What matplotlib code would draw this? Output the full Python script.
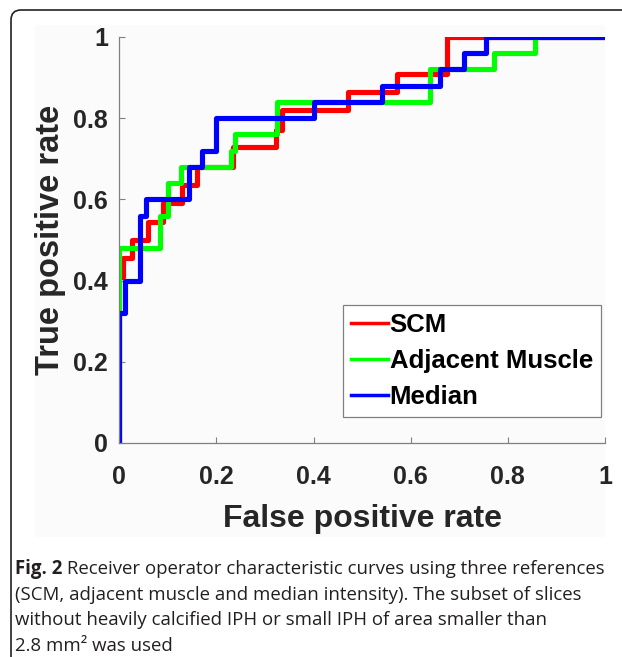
import matplotlib
matplotlib.use("Agg")
import matplotlib.pyplot as plt
from matplotlib.patches import FancyBboxPatch, Rectangle

# ROC curves (fpr breakpoints, tpr level after each)
scm_fpr = [0, 0, 0.007, 0.027, 0.06, 0.09, 0.13, 0.16, 0.235, 0.322, 0.336, 0.47, 0.572, 0.674, 1.0]
scm_tpr = [0, 0.41, 0.455, 0.50, 0.545, 0.59, 0.635, 0.68, 0.73, 0.77, 0.82, 0.865, 0.91, 1.0, 1.0]

adj_fpr = [0, 0, 0.084, 0.10, 0.128, 0.231, 0.238, 0.325, 0.639, 0.771, 0.855, 1.0]
adj_tpr = [0, 0.48, 0.56, 0.64, 0.68, 0.72, 0.76, 0.84, 0.92, 0.96, 1.0, 1.0]

med_fpr = [0, 0, 0.012, 0.043, 0.056, 0.143, 0.17, 0.20, 0.40, 0.54, 0.66, 0.71, 0.755, 1.0]
med_tpr = [0, 0.32, 0.40, 0.56, 0.60, 0.68, 0.72, 0.80, 0.84, 0.88, 0.92, 0.96, 1.0, 1.0]

labels = ["SCM", "Adjacent Muscle", "Median"]
ticks = [0, 0.2, 0.4, 0.6, 0.8, 1]
tick_labels = ["0", "0.2", "0.4", "0.6", "0.8", "1"]

caption_bold = "Fig. 2"
caption_lines = [
    " Receiver operator characteristic curves using three references",
    "(SCM, adjacent muscle and median intensity). The subset of slices",
    "without heavily calcified IPH or small IPH of area smaller than",
    "2.8 mm\u00b2 was used",
]

plt.rcParams['font.family'] = ['Liberation Sans', 'DejaVu Sans']

W, H = 622, 657
fig = plt.figure(figsize=(W / 100, H / 100), dpi=100)
fig.patch.set_facecolor('white')

# light panel behind the plot image and the rounded outer frame
fig.add_artist(Rectangle((35 / W, 1 - 537 / H), 570 / W, 512 / H, transform=fig.transFigure,
                         facecolor='#fbfbfb', edgecolor='none', zorder=0))
fig.add_artist(FancyBboxPatch((11 / W, -0.1), 1.2, 1.1 - 10 / H, transform=fig.transFigure,
                              boxstyle="round,pad=0,rounding_size=0.016",
                              facecolor='none', edgecolor='#222222', linewidth=1.2,
                              mutation_aspect=W / H))

ax = fig.add_axes([119.3 / W, 1 - 443 / H, 485.7 / W, 406 / H])
ax.patch.set_alpha(0)

ax.step(scm_fpr, scm_tpr, where='post', color='#ff0000', lw=3.7, label=labels[0])
ax.step(adj_fpr, adj_tpr, where='post', color='#00ff00', lw=3.7, label=labels[1])
ax.step(med_fpr, med_tpr, where='post', color='#0000ff', lw=3.7, label=labels[2])

ax.set_xlim(0, 1)
ax.set_ylim(0, 1)
ax.set_xticks(ticks)
ax.set_yticks(ticks)
ax.set_xticklabels(tick_labels, fontsize=18, fontweight='bold', color='#262626')
ax.set_yticklabels(tick_labels, fontsize=18, fontweight='bold', color='#262626')
ax.tick_params(axis='x', direction='in', length=4, width=0.8, color='#808080', pad=16)
ax.tick_params(axis='y', direction='in', length=4, width=0.8, color='#808080', pad=8)
for side in ['top', 'right']:
    ax.spines[side].set_visible(False)
for side in ['left', 'bottom']:
    ax.spines[side].set_color('#808080')
    ax.spines[side].set_linewidth(0.9)

ax.set_xlabel("False positive rate", fontsize=23, fontweight='bold', color='#262626', labelpad=11)
ax.set_ylabel("True positive rate", fontsize=23.5, fontweight='bold', color='#262626', labelpad=5)

leg = ax.legend(loc='lower right', bbox_to_anchor=(0.991, 0.064),
                prop={'weight': 'bold', 'size': 18.5}, handlelength=1.45, handletextpad=0.05,
                borderpad=0.3, labelspacing=0.48, fancybox=False, framealpha=1,
                edgecolor='#808080', borderaxespad=0)
leg.get_frame().set_linewidth(0.9)
for line in leg.get_lines():
    line.set_linewidth(2.5)

# caption
cap_font = dict(family=['Open Sans', 'DejaVu Sans'], fontsize=13.4, color='#231f20', va='baseline')
x0, y0, dy = 15 / W, 1 - 574 / H, 25.7 / H
fb = fig.text(x0, y0, caption_bold, fontweight='bold', **cap_font)
fig.canvas.draw()
bb = fb.get_window_extent(renderer=fig.canvas.get_renderer())
fig.text(bb.x1 / W, y0, caption_lines[0], **cap_font)
for i, line in enumerate(caption_lines[1:], start=1):
    fig.text(x0, y0 - i * dy, line, **cap_font)

fig.savefig("out.png", dpi=100)
